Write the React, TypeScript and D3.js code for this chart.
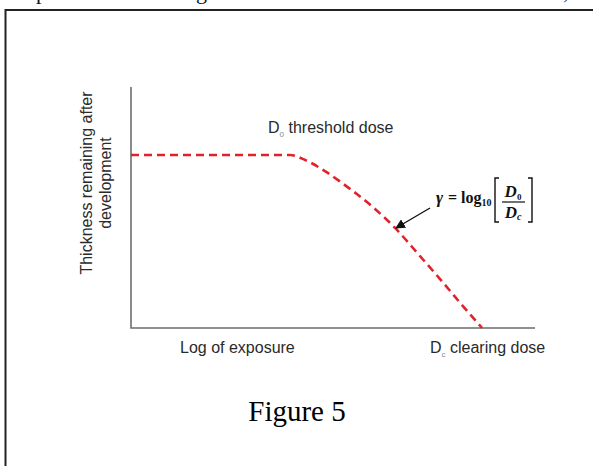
import React from "react";
import * as d3 from "d3";

// log exposure (arbitrary units) vs normalised thickness left after development
const exposure = [0, 3.94, 4.31, 4.8, 5.22, 5.59, 6.04, 6.56, 7.15, 7.65, 8.17, 8.69];
const thickness = [0.718, 0.718, 0.697, 0.651, 0.602, 0.556, 0.494, 0.411, 0.299, 0.203, 0.1, 0];
const yLabelLines = ["Thickness remaining after", "development"];
const xLabel = "Log of exposure";
const caption = "Figure 5";

const W = 593, H = 466;
const sans = "'Liberation Sans', Arial, sans-serif";
const serif = "'Liberation Serif', 'Times New Roman', serif";

export default function App() {
  const x = d3.scaleLinear().domain([0, 10]).range([131, 535]);
  const y = d3.scaleLinear().domain([0, 1]).range([328, 87]);
  const pts = exposure.map((e, i) => [e, thickness[i]] as [number, number]);
  const line = d3.line<[number, number]>()
    .x(d => x(d[0])).y(d => y(d[1]))
    .curve(d3.curveMonotoneX);

  return (
    <svg width={W} height={H} style={{ position: "absolute", left: 0, top: 0, background: "#fff" }}>
      <defs>
        <marker id="ah" viewBox="0 0 10 10" refX="9" refY="5" markerWidth="7" markerHeight="7" orient="auto">
          <path d="M0,0 L10,5 L0,10 z" fill="#111" />
        </marker>
      </defs>

      {/* cut-off text from the page above */}
      <g fontFamily={serif} fontSize={22} fill="#111">
        <text x={36} y={-1}>p</text>
        <text x={196} y={-1}>g</text>
        <text x={563} y={-1}>,</text>
      </g>

      {/* frame */}
      <path d={`M5.5,${H} V10 H${W}`} fill="none" stroke="#222" strokeWidth={2} />

      {/* axes */}
      <path d={`M${x(0)},${y(1)} V${y(0)} H${x(10)}`} fill="none" stroke="#6e6e6e" strokeWidth={1.6} />

      {/* curve */}
      <path d={line(pts) || ""} fill="none" stroke="#e0232b" strokeWidth={2.6} strokeDasharray="8 5" />

      {/* y label */}
      <g fontFamily={sans} fontSize={16} fill="#2a2a2a" textAnchor="middle">
        {yLabelLines.map((t, i) => (
          <text key={t} transform={`translate(${92 + i * 19},183) rotate(-90)`}>{t}</text>
        ))}
      </g>

      {/* x labels */}
      <g fontFamily={sans} fontSize={16} fill="#2a2a2a">
        <text x={180} y={353}>{xLabel}</text>
        <text x={430} y={353}>D<tspan fontSize={8} fill="#888" dy={4}>c</tspan><tspan dy={-4}> clearing dose</tspan></text>
        <text x={268} y={133}>D<tspan fontSize={8} fill="#888" dy={4}>0</tspan><tspan dy={-4}> threshold dose</tspan></text>
      </g>

      {/* gamma annotation */}
      <line x1={430} y1={208} x2={396} y2={228} stroke="#111" strokeWidth={1.4} markerEnd="url(#ah)" />
      <g fontFamily={serif} fontWeight="bold" fill="#111">
        <text x={436} y={203} fontSize={17} fontStyle="italic">γ</text>
        <text x={448} y={203} fontSize={16}>=</text>
        <text x={461} y={203} fontSize={16}>log<tspan fontSize={10} dy={3}>10</tspan></text>
        <path d="M499,178 h-4 v44 h4 M528,178 h4 v44 h-4" fill="none" stroke="#111" strokeWidth={1.4} />
        <text x={513} y={197} fontSize={17} fontStyle="italic" textAnchor="middle">D<tspan fontSize={9} dy={3} fontStyle="normal">0</tspan></text>
        <line x1={502} x2={525} y1={202} y2={202} stroke="#111" strokeWidth={1.2} />
        <text x={513} y={218} fontSize={17} fontStyle="italic" textAnchor="middle">D<tspan fontSize={10} dy={2}>c</tspan></text>
      </g>

      {/* caption */}
      <text x={297} y={421} fontFamily={serif} fontSize={29} fill="#000" textAnchor="middle">{caption}</text>
    </svg>
  );
}
